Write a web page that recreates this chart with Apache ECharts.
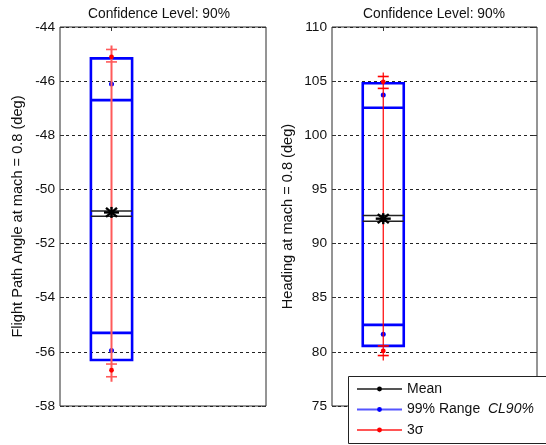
<!DOCTYPE html>
<html>
<head>
<meta charset="utf-8">
<script src="https://cdn.jsdelivr.net/npm/echarts@6.0.0/dist/echarts.min.js"></script>
<style>
html,body{margin:0;padding:0;background:#fff;}
#chart{width:546px;height:445px;}
</style>
</head>
<body>
<div id="chart"></div>
<script>
// ---- data ----
const plotTitles = ['Confidence Level: 90%', 'Confidence Level: 90%'];
const yNames = ['Flight Path Angle at mach = 0.8 (deg)', 'Heading at mach = 0.8 (deg)'];
const yMin = [-58, 75];
const yMax = [-44, 110];
const yStep = [2, 5];
const range99Upper = [-45.16, 104.80];
const range99Lower = [-56.30, 80.55];
const cl90Upper = [-46.70, 102.54];
const cl90Lower = [-55.30, 82.49];
const blueDotUpper = [-46.11, 103.71];
const blueDotLower = [-55.95, 81.63];
const sigma3Upper = [-45.10, 104.94];
const sigma3Lower = [-56.68, 80.09];
const sigma3UpperHi = [-44.83, 105.43];
const sigma3UpperLo = [-45.29, 104.33];
const sigma3LowerHi = [-56.45, 80.55];
const sigma3LowerLo = [-56.92, 79.66];
const meanHi = [-50.80, 92.59];
const meanLo = [-50.99, 92.06];
const meanVal = [-50.85, 92.30];
const legendNames = ['Mean', '99% Range', '3σ'];

// ---- styles ----
const BOX_HALF = 0.2;
const redStyles = [{c: '#ff5a5a', w: 2}, {c: '#ff0000', w: 1.2}];
const FONT = 'Arial, "Liberation Sans", sans-serif';

function rowData(i) {
  return [[1, range99Upper[i], range99Lower[i], cl90Upper[i], cl90Lower[i],
    blueDotUpper[i], blueDotLower[i], sigma3Upper[i], sigma3Lower[i],
    sigma3UpperHi[i], sigma3UpperLo[i], sigma3LowerHi[i], sigma3LowerLo[i],
    meanHi[i], meanLo[i], meanVal[i]]];
}

function makeRender(i) {
  return function (params, api) {
    const x = api.value(0);
    const Y = k => api.coord([x, api.value(k)])[1];
    const cx = api.coord([x, api.value(1)])[0];
    const half = api.coord([x + BOX_HALF, api.value(1)])[0] - cx;
    const blue = '#0000ff';
    const red = redStyles[i];
    const ch = [];
    const hline = (y, hw, color, lw) => ({type: 'line', shape: {x1: cx - hw, y1: y, x2: cx + hw, y2: y}, style: {stroke: color, lineWidth: lw}});
    // blue box & inner lines
    const yt = Y(1), yb = Y(2);
    ch.push({type: 'rect', shape: {x: cx - half, y: yt, width: 2 * half, height: yb - yt}, style: {fill: null, stroke: blue, lineWidth: 2.6}});
    ch.push(hline(Y(3), half, blue, 2.6));
    ch.push(hline(Y(4), half, blue, 2.6));
    ch.push({type: 'circle', shape: {cx: cx, cy: Y(5), r: 2.5}, style: {fill: blue}});
    ch.push({type: 'circle', shape: {cx: cx, cy: Y(6), r: 2.5}, style: {fill: blue}});
    // red 3 sigma
    ch.push({type: 'line', shape: {x1: cx, y1: Y(9) - 4, x2: cx, y2: Y(12) + 5}, style: {stroke: red.c, lineWidth: red.w}});
    [9, 10, 11, 12].forEach(k => ch.push(hline(Y(k), 5.5, red.c, 1.6)));
    ch.push({type: 'circle', shape: {cx: cx, cy: Y(7), r: 2.4}, style: {fill: '#ff0000'}});
    ch.push({type: 'circle', shape: {cx: cx, cy: Y(8), r: 2.4}, style: {fill: '#ff0000'}});
    // mean
    ch.push(hline(Y(13), half, '#222', 1.5));
    ch.push(hline(Y(14), half, '#222', 1.5));
    const my = Y(15);
    ch.push(hline(my, 7.5, '#000', 2.4));
    ch.push({type: 'line', shape: {x1: cx, y1: my - 5.5, x2: cx, y2: my + 5.5}, style: {stroke: '#000', lineWidth: 2.4}});
    ch.push({type: 'line', shape: {x1: cx - 5.5, y1: my - 4.5, x2: cx + 5.5, y2: my + 4.5}, style: {stroke: '#000', lineWidth: 2.4}});
    ch.push({type: 'line', shape: {x1: cx - 5.5, y1: my + 4.5, x2: cx + 5.5, y2: my - 4.5}, style: {stroke: '#000', lineWidth: 2.4}});
    return {type: 'group', children: ch};
  };
}

const gridPos = [{left: 60, top: 27, width: 206, height: 379}, {left: 332, top: 27, width: 205, height: 379}];
const titleCenters = [154, 429];
const nameGaps = [35, 37];

const option = {
  backgroundColor: '#fff',
  animation: false,
  title: plotTitles.map((t, i) => ({
    text: t, left: titleCenters[i], top: 2, textAlign: 'center',
    textStyle: {fontFamily: FONT, fontSize: 13.8, fontWeight: 'normal', color: '#111'}
  })),
  grid: gridPos.map(g => Object.assign({show: true, borderColor: '#2b2b2b', borderWidth: 1, backgroundColor: '#fff'}, g)),
  xAxis: gridPos.map((g, i) => ({
    type: 'value', gridIndex: i, min: 0.5, max: 2.5, position: 'top',
    axisLine: {show: false}, axisLabel: {show: false}, splitLine: {show: false},
    axisTick: {show: true, inside: true, length: 4, customValues: [1], lineStyle: {color: '#333'}}
  })),
  yAxis: [0, 1].flatMap(i => [
    {
      type: 'value', gridIndex: i, min: yMin[i], max: yMax[i], interval: yStep[i],
      name: yNames[i], nameLocation: 'middle', nameRotate: 90, nameGap: nameGaps[i],
      nameTextStyle: {fontFamily: FONT, fontSize: 14.6, color: '#111'},
      axisLine: {show: false},
      axisTick: {show: true, inside: true, length: 4, lineStyle: {color: '#333'}},
      axisLabel: {fontFamily: FONT, fontSize: 13.7, color: '#111', margin: 5, showMinLabel: true, showMaxLabel: true},
      splitLine: {show: true, lineStyle: {color: '#222', width: 1, type: [3, 3]}}
    },
    {
      type: 'value', gridIndex: i, min: yMin[i], max: yMax[i], interval: yStep[i], position: 'right',
      axisLine: {show: false}, axisLabel: {show: false}, splitLine: {show: false},
      axisTick: {show: true, inside: true, length: 4, lineStyle: {color: '#333'}}
    }
  ]),
  graphic: [{
    type: 'rect', left: 348, top: 376, z: 4, silent: true,
    shape: {width: 220, height: 67},
    style: {fill: '#fff', stroke: '#222', lineWidth: 1}
  }],
  legend: {
    orient: 'vertical', left: 348, top: 376, z: 6,
    padding: [6, 10, 2, 8], itemGap: 6.5, itemWidth: 45, itemHeight: 6,
    backgroundColor: 'transparent', borderWidth: 0,
    data: legendNames,
    formatter: name => name === '99% Range' ? '{n|99% Range}  {i|CL90%}' : name,
    textStyle: {fontFamily: FONT, fontSize: 14, color: '#111',
      rich: {n: {fontFamily: FONT, fontSize: 14, color: '#111'}, i: {fontFamily: FONT, fontSize: 14, fontStyle: 'italic', color: '#111'}}}
  },
  series: [
    {type: 'custom', name: 'plot1', xAxisIndex: 0, yAxisIndex: 0, data: rowData(0), renderItem: makeRender(0), encode: {x: 0, y: 1}, z: 3, silent: true},
    {type: 'custom', name: 'plot2', xAxisIndex: 1, yAxisIndex: 2, data: rowData(1), renderItem: makeRender(1), encode: {x: 0, y: 1}, z: 3, silent: true},
    {type: 'line', name: 'Mean', xAxisIndex: 1, yAxisIndex: 2, data: [], symbol: 'circle', symbolSize: 5, itemStyle: {color: '#000'}, lineStyle: {color: '#555', width: 1.5}},
    {type: 'line', name: '99% Range', xAxisIndex: 1, yAxisIndex: 2, data: [], symbol: 'circle', symbolSize: 5, itemStyle: {color: '#0000ff'}, lineStyle: {color: '#5555ff', width: 1.5}},
    {type: 'line', name: '3σ', xAxisIndex: 1, yAxisIndex: 2, data: [], symbol: 'circle', symbolSize: 5, itemStyle: {color: '#ff0000'}, lineStyle: {color: '#ff5555', width: 1.5}}
  ]
};

const chart = echarts.init(document.getElementById('chart'), null, {renderer: 'canvas'});
chart.setOption(option);
</script>
</body>
</html>
